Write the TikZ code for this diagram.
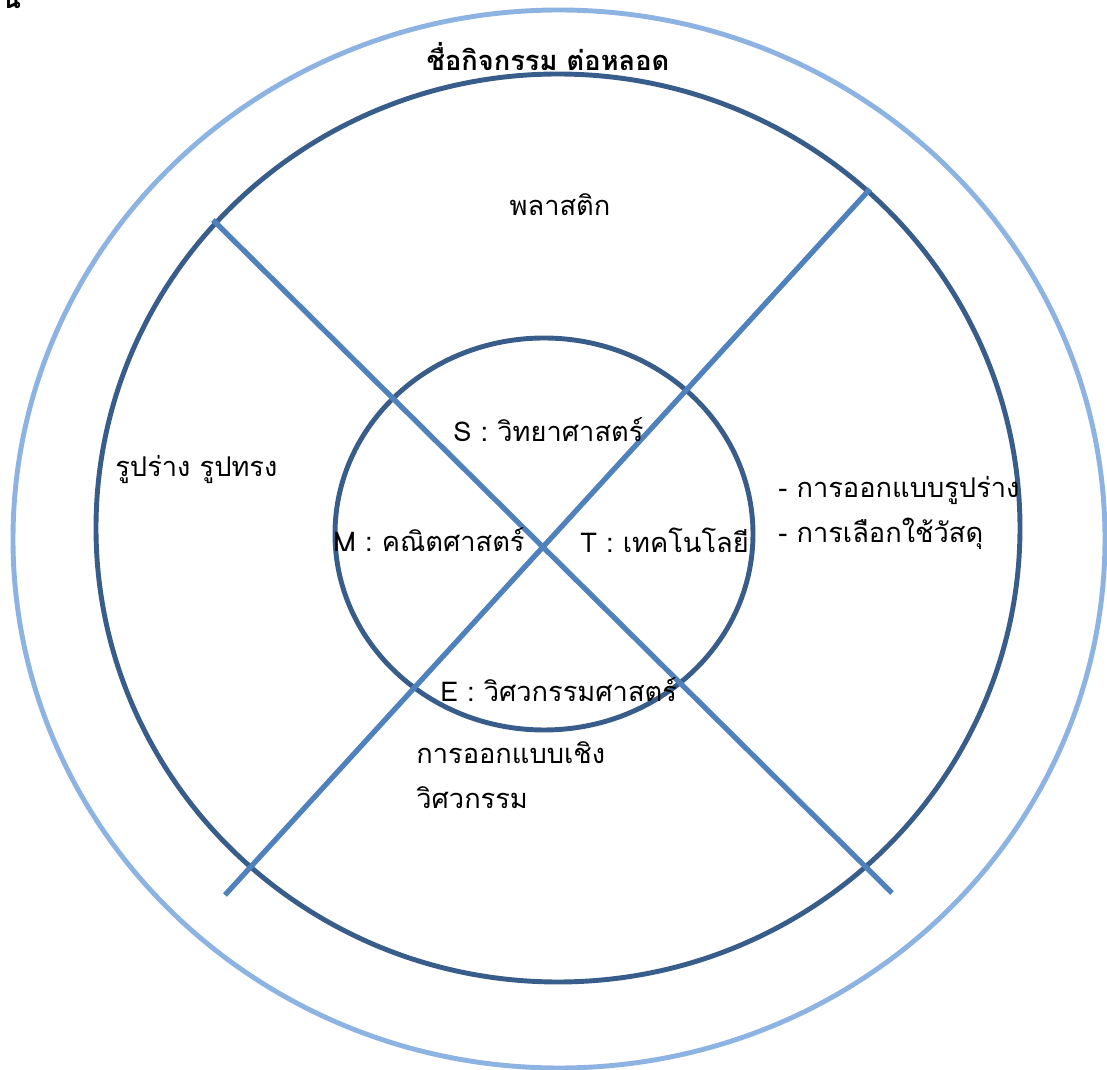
\documentclass[tikz,border=0pt]{standalone}
\usepackage{fontspec}
\newfontfamily\thaifont[Script=Thai]{Loma}
\usetikzlibrary{positioning}
\definecolor{ringlight}{HTML}{8DB3E2}
\definecolor{ringdark}{HTML}{385D8A}
\definecolor{crossblue}{HTML}{4F81BD}

\begin{document}
\begin{tikzpicture}[
    x=0.02cm,
    y=-0.02cm,
    every node/.style={font=\thaifont\fontsize{15.5}{26}\selectfont, inner sep=0pt},
    area/.style={anchor=west, align=left},
    ring/.style={line width=2.8pt},
    cross/.style={crossblue, line width=3pt}
]
    \useasboundingbox (0,0) rectangle (1107,1070);

    % === RINGS ===
    \coordinate (outerc) at (559,539);
    \coordinate (midc) at (558,528);
    \coordinate (innerc) at (544,534);
    \draw[ring, ringlight] (outerc) ellipse [x radius=546, y radius=529];
    \draw[ring, ringdark] (midc) ellipse [x radius=462, y radius=454];
    \draw[ring, ringdark] (innerc) ellipse [x radius=209, y radius=196];

    % === CROSS ===
    \coordinate (nw) at (213,220);
    \coordinate (se) at (892,893);
    \coordinate (ne) at (870,189);
    \coordinate (sw) at (225,895);
    \draw[cross] (nw) -- (se);
    \draw[cross] (ne) -- (sw);

    % === TITLE ===
    \node[font=\thaifont\bfseries\fontsize{15.5}{26}\selectfont] (title) at (548,57) {ชื่อกิจกรรม ต่อหลอด};
    \node[font=\thaifont\bfseries\fontsize{15.5}{26}\selectfont, anchor=south west] (corner) at (2,9) {น};

    % === OUTER AREAS ===
    \node (plastic) at (560,205) {พลาสติก};
    \node[area] (shape) at (115,470) {รูปร่าง รูปทรง};
    \node[area] (design) at (778,513) {- การออกแบบรูปร่าง\\- การเลือกใช้วัสดุ};
    \node[area] (engdesign) at (416,775) {การออกแบบเชิง\\วิศวกรรม};

    % === STEM ===
    \node[area] (sci) at (453,430) {S : วิทยาศาสตร์};
    \node[area] (math) at (333,540) {M : คณิตศาสตร์};
    \node[area] (tech) at (580,540) {T : เทคโนโลยี};
    \node[area] (eng) at (440,690) {E : วิศวกรรมศาสตร์};
\end{tikzpicture}
\end{document}
